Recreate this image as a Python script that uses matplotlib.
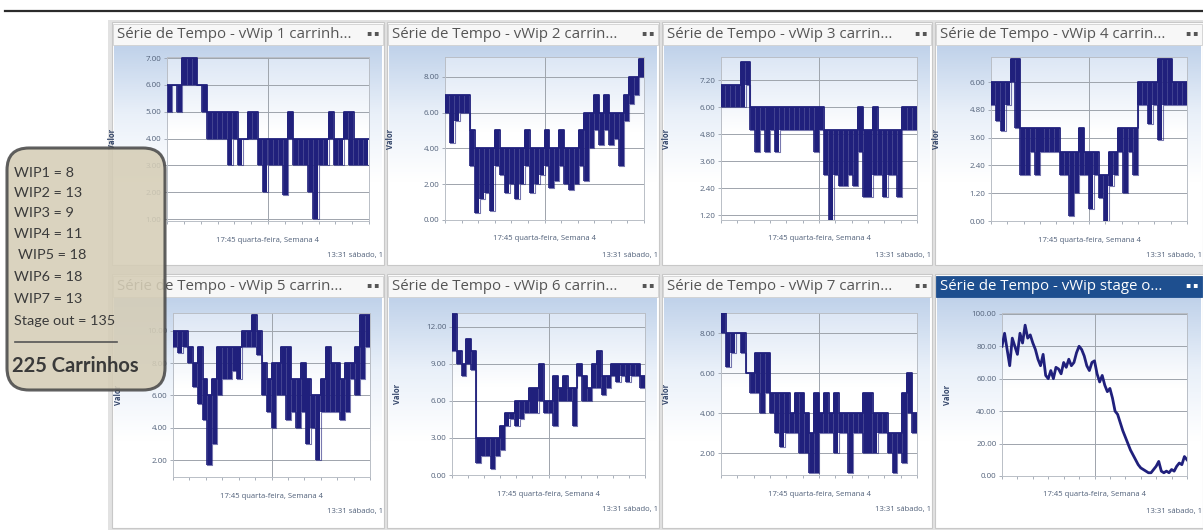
import matplotlib.pyplot as plt
import numpy as np
from matplotlib.colors import LinearSegmentedColormap
from matplotlib.patches import FancyBboxPatch, Rectangle

W, H = 1203, 532

plt.rcParams["font.family"] = ["Open Sans", "DejaVu Sans"]

# values: per time step, the high and low level the series toggles between
wip1_hi = [6, 6, 6, 7, 7, 7, 6, 6, 5, 5, 5, 5, 5, 5, 4, 4, 5, 5, 4, 4,
           4, 4, 4, 4, 5, 4, 4, 4, 4, 4, 4, 4, 5, 4, 4, 5, 5, 4, 4, 4]
wip1_lo = [5, 6, 5, 6, 6, 6, 6, 5, 4, 4, 4, 4, 3, 4, 3, 4, 4, 4, 3, 2,
           3, 3, 3, 1.9, 4, 3, 3, 3, 2, 1, 3, 3, 4, 3, 3, 4, 3, 3, 3, 3]

wip2_hi = [7, 7, 7, 7, 7, 5, 4, 4, 4, 4, 5, 4, 4, 4, 4, 4, 5, 4, 4, 4,
           5, 4, 4, 5, 4, 4, 4, 5, 6, 6, 7, 6, 7, 6, 6, 6, 7, 8, 8, 9]
wip2_lo = [6, 4.3, 5.5, 6, 6, 3, 0.4, 1.2, 1.5, 0.5, 3, 2.5, 1.5, 2, 1.2, 2, 3, 1.5, 2, 2.5,
           3, 1.8, 2.2, 3, 2, 1.7, 2, 3, 2.2, 4, 5, 4.2, 5, 4.2, 4.5, 3, 5.5, 6.5, 7, 8]

wip3_hi = [7, 7, 7, 7, 8, 8, 6, 6, 6, 6, 6, 6, 6, 6, 6, 6, 6, 6, 6, 6,
           6, 5, 5, 5, 5, 5, 5, 5, 6, 5, 5, 6, 5, 5, 5, 5, 5, 6, 6, 6]
wip3_lo = [6, 6, 6, 6, 6, 7, 5, 4, 5, 4, 5, 4, 5, 5, 5, 5, 5, 5, 5, 4,
           5, 3, 1, 3, 2.5, 2.5, 3, 2.5, 4, 2, 2, 3, 3, 2, 3, 3, 2, 5, 5, 5]

wip4_hi = [6, 6, 6, 6, 7, 7, 4, 4, 4, 4, 4, 4, 4, 4, 3, 3, 3, 3, 4, 3,
           3, 3, 2, 2, 3, 3, 4, 4, 4, 4, 6, 6, 6, 6, 7, 7, 7, 6, 6, 6]
wip4_lo = [5, 4.3, 3.9, 5, 6, 4, 2, 2, 3, 2, 3, 3, 3, 3, 2, 2, 0.2, 1.2, 2, 2,
           0.5, 2, 1, 0, 1.5, 2, 3, 1.2, 3, 2, 5, 5, 4.2, 5, 3.5, 5, 5, 5, 5, 5]

wip5_hi = [10, 10, 10, 9, 8, 9, 7, 6, 7, 9, 9, 9, 9, 9, 10, 10, 11, 10, 8, 7,
           8, 8, 9, 9, 7, 7, 8, 7, 6, 6, 7, 9, 8, 8, 7, 8, 8, 9, 11, 11]
wip5_lo = [9, 8.6, 9, 8, 6.5, 5.5, 4.5, 1.7, 3, 6, 7, 7, 7.5, 7, 9, 9, 9, 8.5, 6, 5,
           4, 6, 6, 4.5, 5, 4, 5, 3, 4, 2, 5, 5, 5, 5, 4.5, 5, 7, 6, 7, 9]

wip6_hi = [13, 10, 9, 11, 10, 3, 3, 3, 3, 3, 4, 5, 5, 6, 6, 6, 7, 7, 9, 6,
           6, 8, 7, 8, 7, 7, 9, 8, 7, 9, 10, 8, 8, 9, 9, 9, 9, 9, 9, 8]
wip6_lo = [10, 9, 8, 9, 8.5, 1, 1.5, 1.5, 0.5, 1.5, 2, 4, 4.5, 4, 4.5, 5, 5, 5, 6, 5,
           5, 4, 6, 6, 6, 4, 8, 6, 6, 7, 7, 6.5, 7, 8, 7.5, 8, 7.5, 8, 8, 7]

wip7_hi = [9, 8, 8, 8, 8, 6, 6, 7, 7, 7, 5, 5, 5, 5, 4, 5, 5, 4, 3, 5,
           4, 5, 4, 5, 4, 4, 4, 4, 4, 5, 5, 4, 4, 4, 3, 3, 3, 5, 6, 4]
wip7_lo = [8, 6.3, 7, 8, 7, 6, 5, 5, 4, 5, 4, 3, 2.3, 3, 3, 3, 2, 2, 1, 1,
           3, 3, 3, 2, 3, 3, 1, 3, 3, 2, 2, 2, 3, 3, 2, 1, 2, 1.5, 4, 3]

stage_out = [80, 88, 78, 68, 85, 80, 75, 88, 82, 93, 85, 87, 82, 78, 72, 68, 75, 62,
             60, 65, 60, 67, 66, 63, 70, 67, 72, 68, 70, 76, 80, 78, 74, 68, 65, 70,
             71, 63, 58, 62, 56, 52, 54, 48, 40, 38, 33, 28, 24, 20, 16, 13, 10, 7,
             5, 4, 3, 2, 2, 4, 6, 9, 3, 2, 3, 2, 4, 3, 6, 8, 7, 12, 10]

titles = ["Série de Tempo - vWip 1 carrinh...", "Série de Tempo - vWip 2 carrin...",
          "Série de Tempo - vWip 3 carrin...", "Série de Tempo - vWip 4 carrin...",
          "Série de Tempo - vWip 5 carrin...", "Série de Tempo - vWip 6 carrin...",
          "Série de Tempo - vWip 7 carrin...", "Série de Tempo - vWip stage o..."]
y_ticks = [[1, 2, 3, 4, 5, 6, 7], [0, 2, 4, 6, 8], [1.2, 2.4, 3.6, 4.8, 6.0, 7.2],
           [0, 1.2, 2.4, 3.6, 4.8, 6.0], [2, 4, 6, 8, 10], [0, 3, 6, 9, 12],
           [2, 4, 6, 8], [0, 20, 40, 60, 80, 100]]
x_label_1 = "17:45 quarta-feira, Semana 4"
x_label_2 = "13:31 sábado, 1"

wip_names = ["WIP1", "WIP2", "WIP3", "WIP4", "WIP5", "WIP6", "WIP7"]
wip_counts = [8, 13, 9, 11, 18, 18, 13]
stage_out_count = 135
total_carts = 225

series = [(wip1_hi, wip1_lo), (wip2_hi, wip2_lo), (wip3_hi, wip3_lo), (wip4_hi, wip4_lo),
          (wip5_hi, wip5_lo), (wip6_hi, wip6_lo), (wip7_hi, wip7_lo), stage_out]

# layout in pixels
frames_x = [(112, 384), (387, 659), (662, 932), (935, 1203)]
frames_y = [(22, 265), (274, 528)]
axes_px = [(167, 57, 369, 221), (445, 57, 644, 220), (721, 57, 917, 220), (991, 57, 1187, 221),
           (173, 313, 370, 477), (452, 313, 645, 475), (721, 313, 917, 475), (1002, 313, 1187, 476)]
y_limits = [(0.93, 7.04), (0, 9.1), (0.98, 8.24), (0, 7.08),
            (0.96, 11.1), (0, 13.1), (0.92, 9.0), (0, 100.5)]

NAVY = "#20207c"

fig = plt.figure(figsize=(W / 100, H / 100), dpi=100)
fig.patch.set_facecolor("white")

bg = fig.add_axes([0, 0, 1, 1], zorder=0)
bg.axis("off")

body_cmap = LinearSegmentedColormap.from_list("body", ["#c0d2ea", "#e9f0f9", "#ffffff"])
plot_cmap = LinearSegmentedColormap.from_list("plot", ["#dde7f5", "#ffffff"])
body_grad = np.clip(np.linspace(0, 1.6, 120), 0, 1).reshape(-1, 1)
plot_grad = np.clip(np.linspace(0, 2.2, 60), 0, 1).reshape(-1, 1)

bg.add_patch(Rectangle((108, 20), W - 108, 510, facecolor="#e2e2e2", edgecolor="none"))
bg.plot([5, W], [11, 11], color="#2b2b2b", lw=1.6)

for i in range(8):
    fx0, fx1 = frames_x[i % 4]
    fy0, fy1 = frames_y[i // 4]
    bg.add_patch(Rectangle((fx0, fy0), fx1 - fx0, fy1 - fy0, facecolor="white", edgecolor="#c8c8c8", lw=0.8))
    bg.imshow(body_grad, cmap=body_cmap, vmin=0, vmax=1, aspect="auto",
              extent=(fx0 + 2, fx1 - 2, fy1 - 2, fy0 + 23), zorder=1)
    active = i == 7
    bar_color = "#1e4f8f" if active else "#f7f7f7"
    txt_color = "white" if active else "#555555"
    bg.add_patch(Rectangle((fx0 + 1, fy0 + 2), fx1 - fx0 - 2, 21, facecolor=bar_color,
                           edgecolor=bar_color if active else "#d0d0d0", lw=0.6, zorder=2))
    bg.text(fx0 + 5, fy0 + 13, titles[i], fontsize=10.8, color=txt_color, va="center", ha="left", zorder=3)
    bg.text(fx1 - 5, fy0 + 13, "▪ ▪", fontsize=5.5, color=txt_color, va="center", ha="right", zorder=3)

    ax0, ay0, ax1, ay1 = axes_px[i]
    bg.text((ax0 + ax1) / 2, ay1 + 19, x_label_1, fontsize=5.5, color="#4f5f78", ha="center", va="center", zorder=3)
    bg.text(fx1 - 1, ay1 + 35, x_label_2, fontsize=5.5, color="#4f5f78", ha="right", va="center", zorder=3)

bg.set_xlim(0, W)
bg.set_ylim(H, 0)

for i in range(8):
    ax0, ay0, ax1, ay1 = axes_px[i]
    ax = fig.add_axes([ax0 / W, 1 - ay1 / H, (ax1 - ax0) / W, (ay1 - ay0) / H], zorder=2)
    ax.imshow(plot_grad, cmap=plot_cmap, vmin=0, vmax=1, aspect="auto", extent=(0, 1, 0, 1),
              transform=ax.transAxes, zorder=0)

    if i < 7:
        hi, lo = series[i]
        n = len(hi)
        xs = np.arange(n + 1)
        # flat top of each step, then the dense toggling drawn as a vertical stroke per step
        ax.step(xs, list(hi) + [hi[-1]], where="post", color=NAVY, lw=1.3, zorder=3)
        ax.step(xs, list(lo) + [lo[-1]], where="post", color=NAVY, lw=0.8, alpha=0.6, zorder=3)
        ax.vlines(np.arange(n) + 0.5, lo, hi, color=NAVY, lw=2.9, zorder=3)
        ax.vlines(np.arange(n), np.minimum(lo, hi), hi, color=NAVY, lw=1.2, zorder=3)
        right = n
    else:
        y = np.asarray(series[i], dtype=float)
        ax.plot(np.arange(len(y)), y, color=NAVY, lw=2.0, zorder=3)
        right = len(y) - 1

    ax.set_xlim(0, right)
    ax.set_ylim(*y_limits[i])
    ax.set_yticks(y_ticks[i])
    ax.set_yticklabels([f"{t:.2f}" for t in y_ticks[i]])
    ax.set_xticks([right / 2])
    ax.set_xticklabels([])
    ax.set_xticks(np.linspace(0, right, 13), minor=True)
    ax.tick_params(axis="y", labelsize=5.8, labelcolor="#53627a", color="#9aa2ae", length=2, width=0.6, pad=2)
    ax.tick_params(axis="x", which="both", color="#9aa2ae", length=2.5, width=0.6)
    ax.grid(True, which="major", color="#9ea4ac", lw=0.7)
    ax.set_axisbelow(True)
    for sp in ax.spines.values():
        sp.set_color("#b9bec6")
        sp.set_linewidth(0.7)
    ax.set_ylabel("Valor", fontsize=5.5, color="#34466a", fontweight="bold")
    ax.yaxis.set_label_coords(-50 / (ax1 - ax0), 0.5)

# summary box on top of the first column
ov = fig.add_axes([0, 0, 1, 1], zorder=5)
ov.axis("off")
ov.set_xlim(0, W)
ov.set_ylim(H, 0)
ov.add_patch(FancyBboxPatch((7, 148), 158, 242, boxstyle="round,pad=0,rounding_size=22",
                            facecolor="#d5cdb6", edgecolor="#4a4a4a", lw=2.2, alpha=0.88))
line_y = [173, 193, 213, 234, 255, 277, 299]
for name, count, yy in zip(wip_names, wip_counts, line_y):
    xx = 18 if name == "WIP5" else 14
    ov.text(xx, yy, f"{name} = {count}", fontsize=10.4, color="#3a3a3a", va="center", ha="left", family="Lato")
ov.text(14, 321, f"Stage out = {stage_out_count}", fontsize=10.4, color="#3a3a3a", va="center", ha="left", family="Lato")
ov.plot([15, 117], [342, 342], color="#555555", lw=1.2)
ov.text(12, 366, f"{total_carts} Carrinhos", fontsize=14.5, color="#3a3a3a", va="center", ha="left",
        family="Lato", fontweight="bold")

fig.savefig("out.png", dpi=100)
